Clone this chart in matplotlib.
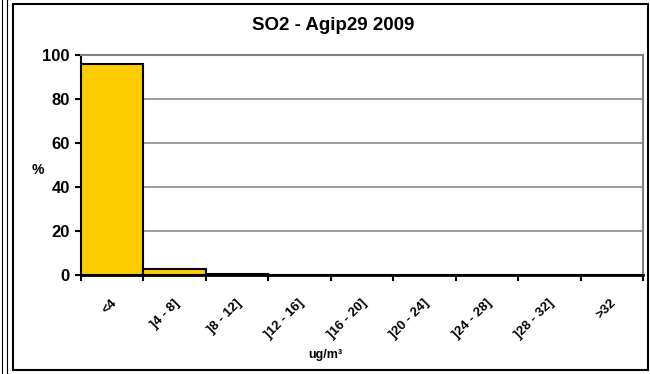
import matplotlib.pyplot as plt
import matplotlib.transforms as mtransforms
from matplotlib.lines import Line2D
from matplotlib.patches import Rectangle

plt.rcParams['font.family'] = ['Liberation Sans', 'DejaVu Sans']

# data
categories = ["<4", "]4 - 8]", "]8 - 12]", "]12 - 16]", "]16 - 20]",
              "]20 - 24]", "]24 - 28]", "]28 - 32]", ">32"]
percent = [96.0, 2.7, 0.6, 0.1, 0.0, 0.0, 0.0, 0.0, 0.0]
yticks = [0, 20, 40, 60, 80, 100]

fig = plt.figure(figsize=(6.5, 3.74), dpi=100)

# outer chart frame and the edge of the neighbouring chart on the left
fig.patches.append(Rectangle((13 / 650, 4 / 374), 635 / 650, 366 / 374, transform=fig.transFigure,
                             fill=False, edgecolor="black", linewidth=1.5))
fig.lines.append(Line2D([2 / 650, 2 / 650], [0, 1], transform=fig.transFigure, color="black", linewidth=0.8))
fig.lines.append(Line2D([7 / 650, 7 / 650], [0, 1], transform=fig.transFigure, color="black", linewidth=0.8))

ax = fig.add_axes([81 / 650, 1 - 275 / 374, 562 / 650, 220 / 374])

x = list(range(len(categories)))
ax.bar(x, percent, width=1.0, align="edge", color="#FFCC00", edgecolor="black", linewidth=1.5, zorder=3)

ax.set_xlim(0, len(categories))
ax.set_ylim(0, 100)
ax.set_yticks(yticks)
ax.set_yticklabels([str(v) for v in yticks], fontsize=12, fontweight="bold")
ax.yaxis.grid(True, color="#8c8c8c", linewidth=1.2, zorder=0)

ax.set_xticks(range(len(categories) + 1))
ax.set_xticklabels([])
ax.set_xticks([i + 0.5 for i in x], minor=True)
ax.set_xticklabels(categories, minor=True, rotation=45, ha="right", va="center",
                   rotation_mode="anchor", fontsize=9.5, fontweight="bold")
ax.tick_params(axis="x", which="minor", length=0, pad=19)
ax.tick_params(axis="x", which="major", length=4, width=1.5, direction="out")
ax.tick_params(axis="y", length=4, width=1.5, direction="out", pad=4)
shift = mtransforms.ScaledTranslation(3 / 100, 0, fig.dpi_scale_trans)
for lab in ax.get_xticklabels(minor=True):
    lab.set_transform(lab.get_transform() + shift)

ax.spines["left"].set_linewidth(1.5)
ax.spines["bottom"].set_linewidth(2)
ax.spines["top"].set_color("#808080")
ax.spines["right"].set_color("#808080")
ax.spines["top"].set_linewidth(1.5)
ax.spines["right"].set_linewidth(1.5)

fig.text(333 / 650, 1 - 25 / 374, "SO2 - Agip29 2009", ha="center", va="center", fontsize=13.5, fontweight="bold")
fig.text(38 / 650, 1 - 170 / 374, "%", ha="center", va="center", fontsize=10, fontweight="bold")
fig.text(325 / 650, 1 - 355 / 374, "ug/m\u00b3", ha="center", va="center", fontsize=9, fontweight="bold")

fig.savefig("out.png", dpi=100)
